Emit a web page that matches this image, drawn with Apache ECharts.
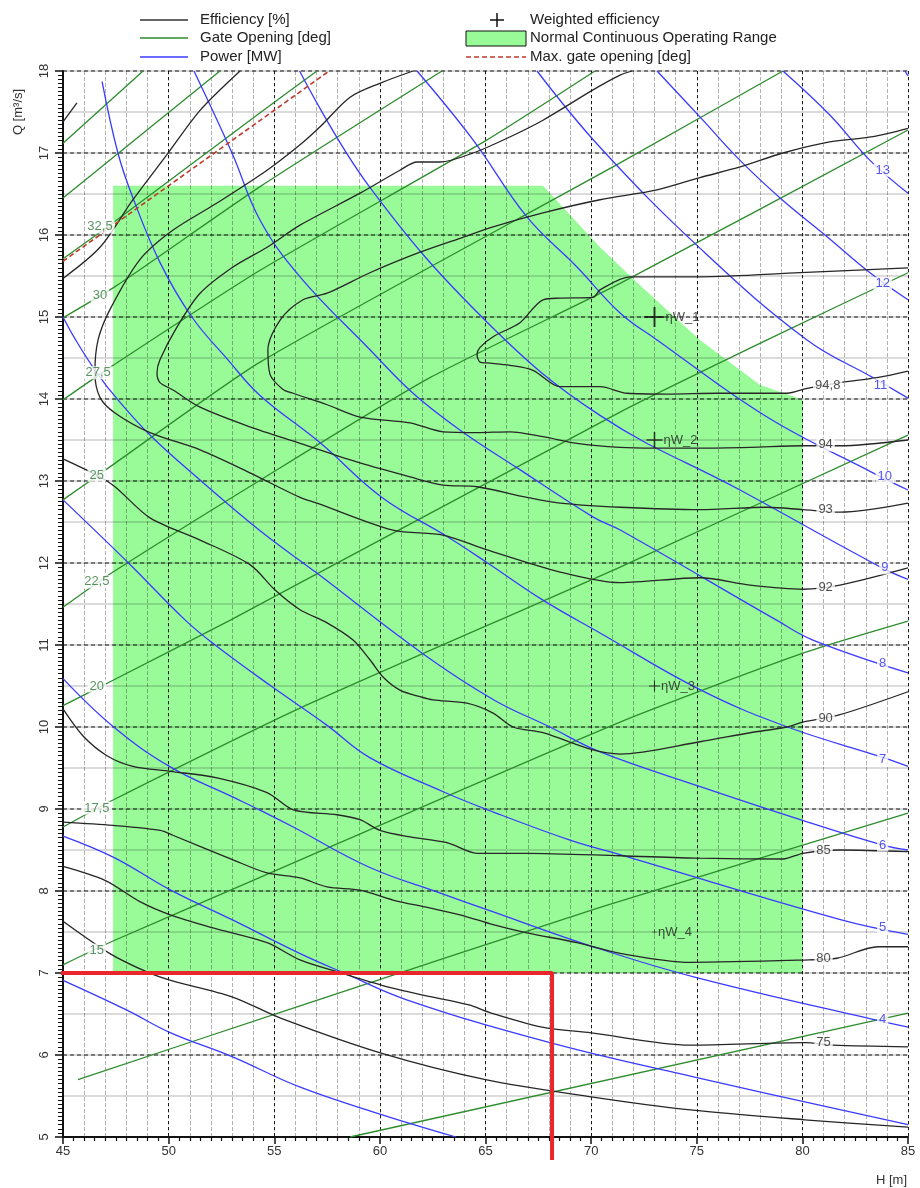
<!DOCTYPE html>
<html>
<head>
<meta charset="utf-8">
<script src="https://cdn.jsdelivr.net/npm/echarts@6/dist/echarts.min.js"></script>
<style>
html, body { margin: 0; padding: 0; background: #fff; }
#hill { width: 920px; height: 1188px; }
</style>
</head>
<body>
<div id="hill"></div>
<script>
// axis ranges
var hMin = 45, hMax = 85, qMin = 5, qMax = 18;

// normal continuous operating range (outline, [H, Q])
var rangeArea = [[47.37,16.6],[67.72,16.6],[70.42,15.85],[72.3,15.39],[75.15,14.72],[78.0,14.17],[80.03,13.99],[80.03,7.0],[47.37,7.0]];

// gate opening lines [deg]
var g10  = [[58.59,5.0],[85,6.51]];
var g125 = [[45.71,5.70],[56.22,6.6],[70.42,7.8],[85,8.95]];
var g15  = [[45,7.10],[47.37,7.39],[54.0,8.13],[71.37,10.06],[80.03,10.9],[85,11.29]];
var g175 = [[45,8.78],[47.37,9.11],[56.22,10.23],[71.37,11.95],[85,13.56]];
var g20  = [[45,10.26],[47.37,10.57],[52.9,11.3],[71.37,13.84],[78.33,14.72],[85,15.54]];
var g225 = [[45,11.46],[47.37,11.89],[54.33,13.01],[62.37,14.26],[71.37,15.41],[85,17.28]];
var g25  = [[45,12.77],[47.37,13.2],[54.33,14.45],[71.37,16.88],[79.08,18.0]];
var g275 = [[45,13.99],[47.37,14.41],[54.33,15.57],[65.07,17.16],[70.18,18.0]];
var g30  = [[45,14.99],[47.46,15.37],[54.33,16.59],[62.94,18.0]];
var g325 = [[45,15.71],[47.37,16.15],[54.33,17.49],[57.02,18.0]];
var g35  = [[45,16.45],[52.43,18.0]];
var g375 = [[45,17.12],[48.79,18.0]];
var maxGate = [[45,15.68],[57.6,18.0]];

// power lines [MW]
var pw2  = [[45,6.91],[48.0,6.55],[50.1,6.27],[53.0,5.98],[56.2,5.61],[60.0,5.28],[63.6,5.0]];
var pw3  = [[45,8.67],[47.4,8.41],[50.1,8.01],[53.0,7.65],[56.2,7.24],[58.3,7.0],[61.3,6.67],[68.05,6.15],[74.9,5.73],[85,5.15]];
var pw4  = [[45,10.59],[47.4,10.0],[50.1,9.51],[53.0,9.15],[54.3,8.99],[55.9,8.78],[59.5,8.29],[62.8,7.98],[65.1,7.77],[70.1,7.32],[74.9,6.95],[83.9,6.4],[85,6.34]];
var pw5  = [[45,12.77],[48.1,12.0],[50.8,11.3],[52.2,11.0],[54.9,10.49],[57.5,10.02],[59.5,9.63],[63.0,9.21],[65.1,8.99],[69.0,8.62],[71.4,8.44],[81.8,7.65],[85,7.47]];
var pw6  = [[45,15.0],[45.6,14.72],[46.6,14.32],[47.6,13.99],[49.2,13.54],[51.5,13.01],[54.3,12.4],[57.0,11.88],[62.0,10.9],[65.4,10.33],[68.05,10.0],[70.4,9.7],[75.2,9.27],[79.9,8.87],[83.8,8.56],[85,8.5]];
var pw7  = [[46.85,17.87],[47.6,17.0],[48.3,16.46],[49.6,15.66],[51.1,15.0],[52.8,14.48],[54.3,14.05],[57.2,13.46],[60.1,12.8],[63.2,12.32],[65.1,12.0],[67.7,11.55],[70.4,11.15],[75.2,10.45],[79.3,10.0],[83.8,9.63],[85,9.52]];
var pw8  = [[51.2,18.0],[53.0,17.0],[54.33,16.18],[56.22,15.49],[59.53,14.6],[61.57,14.07],[63.8,13.62],[66.5,13.16],[70.1,12.56],[71.4,12.4],[78.8,11.3],[80.5,11.06],[85,10.66]];
var pw9  = [[56.2,18.0],[59.5,16.59],[65.1,14.93],[70.42,13.8],[77.05,12.89],[83.7,11.95],[85,11.8]];
var pw10 = [[61.76,18.0],[64.41,17.16],[66.96,16.22],[69.33,15.61],[71.37,15.05],[73.12,14.72],[78.33,13.78],[83.34,13.1],[85,12.89]];
var pw11 = [[67.44,18.0],[70.42,17.07],[75.15,15.84],[80.22,14.72],[83.34,14.26],[85,14.01]];
var pw12 = [[73.12,18.0],[75.15,17.44],[77.05,16.91],[79.04,16.43],[81.17,15.98],[83.2,15.54],[85,15.21]];
var pw13 = [[79.08,18.0],[81.31,17.46],[83.2,16.91],[85,16.51]];
var pw14 = [[84.86,18.0],[85,17.94]];

// efficiency contours [%]
var eff70 = [[45,7.63],[47.2,7.24],[49.0,7.01],[50.1,6.91],[53.0,6.71],[55.3,6.45],[60.1,6.02],[65.0,5.70],[70.0,5.49],[74.7,5.33],[80.1,5.21],[85,5.12]];
var eff75 = [[45,8.3],[46.99,8.13],[48.64,7.87],[50.07,7.71],[52.1,7.55],[54.66,7.37],[56.22,7.16],[58.16,7.0],[60.1,6.85],[62.04,6.73],[64.22,6.61],[65.17,6.52],[67.67,6.34],[70.0,6.27],[74.68,6.12],[80.12,6.15],[81.45,6.12],[85,6.1]];
var eff80 = [[45,8.84],[47.37,8.8],[49.6,8.74],[50.2,8.68],[53.05,8.38],[54.66,8.22],[56.22,8.16],[57.5,8.05],[59.06,8.01],[60.62,7.89],[62.23,7.8],[63.79,7.71],[65.36,7.59],[66.96,7.49],[69.33,7.37],[71.37,7.24],[74.68,7.13],[80.31,7.16],[81.64,7.18],[83.58,7.32],[85,7.32]];
var eff85 = [[45,10.22],[45.95,9.89],[47.08,9.65],[48.31,9.52],[50.07,9.46],[52.29,9.38],[54.66,9.2],[55.9,8.99],[57.97,8.93],[59.06,8.87],[60.0,8.74],[61.43,8.66],[63.18,8.59],[64.6,8.46],[66.96,8.46],[71.37,8.43],[75.15,8.4],[79.08,8.39],[80.03,8.46],[81.78,8.5],[85,8.48]];
var eff85top = [[45,17.38],[45.66,17.61]];
var eff90top = [[45,15.47],[46.75,15.85],[48.31,16.43],[49.92,16.98],[51.49,17.52],[53.38,18.0]];
var eff90 = [[45,13.27],[46.6,13.07],[47.46,12.93],[49.12,12.55],[51.49,12.28],[53.85,11.98],[55.04,11.67],[56.22,11.43],[57.5,11.27],[58.73,11.06],[59.53,10.82],[60.15,10.61],[60.95,10.45],[61.9,10.37],[62.51,10.33],[64.12,10.29],[65.36,10.17],[66.3,10.0],[67.72,9.93],[70.09,9.72],[71.37,9.67],[75.15,9.82],[77.52,9.93],[79.27,10.0],[80.03,10.06],[81.78,10.15],[85,10.43]];
var eff92 = [[61.57,18.0],[60.0,17.85],[58.59,17.68],[57.17,17.32],[56.22,17.1],[54.66,16.79],[52.29,16.39],[50.21,16.06],[48.64,15.7],[47.22,15.09],[46.66,14.72],[46.51,14.32],[46.75,14.02],[47.46,13.83],[49.12,13.59],[51.49,13.38],[53.85,13.1],[56.22,12.8],[57.02,12.73],[60.62,12.4],[62.99,12.34],[65.07,12.16],[68.53,11.89],[71.37,11.76],[75.15,11.82],[77.52,11.73],[80.03,11.68],[81.78,11.73],[85,11.94]];
var eff93 = [[71.93,18.0],[71.37,17.95],[70.09,17.77],[67.72,17.4],[66.02,17.18],[64.41,17.0],[62.85,16.89],[61.76,16.89],[60.95,16.79],[59.06,16.51],[56.22,16.12],[54.66,15.85],[53.05,15.61],[51.49,15.29],[50.4,14.88],[49.59,14.48],[49.45,14.32],[49.59,14.2],[50.21,14.11],[51.49,13.9],[53.85,13.66],[56.22,13.46],[59.06,13.22],[61.43,13.05],[62.99,12.95],[64.6,12.93],[66.96,12.8],[68.53,12.73],[71.37,12.68],[75.15,12.65],[78.33,12.68],[80.03,12.65],[81.78,12.62],[85,12.73]];
var eff94 = [[85,17.3],[83.34,17.2],[81.17,17.13],[79.08,17.0],[77.05,16.83],[75.15,16.7],[73.12,16.55],[70.42,16.43],[67.72,16.27],[65.36,16.1],[63.79,15.96],[61.9,15.79],[59.53,15.54],[57.5,15.29],[56.36,15.21],[55.27,14.96],[54.7,14.6],[54.8,14.3],[55.4,14.12],[55.89,14.07],[57.5,13.93],[59.06,13.78],[61.43,13.71],[62.99,13.6],[64.6,13.59],[66.16,13.6],[67.72,13.54],[69.33,13.46],[71.37,13.41],[72.93,13.4],[75.15,13.4],[77.52,13.41],[80.03,13.43],[81.78,13.43],[85,13.5]];
var eff948 = [[85,15.6],[79.89,15.54],[75.15,15.49],[71.84,15.49],[70.42,15.33],[70.09,15.24],[68.53,15.23],[67.72,15.21],[66.63,14.93],[65.36,14.76],[64.74,14.63],[64.6,14.54],[64.74,14.45],[65.07,14.44],[66.16,14.41],[67.25,14.35],[68.53,14.15],[70.42,14.15],[71.7,14.07],[73.59,14.06],[75.96,14.07],[78.33,14.07],[79.27,14.07],[80.22,14.13],[81.78,14.2],[83.53,14.26],[85,14.34]];

// weighted efficiency points
var weightedPts = [[73, 15.0], [73, 13.5], [73, 10.5], [73, 7.5]];
var weightedNames = ['ηW_1', 'ηW_2', 'ηW_3', 'ηW_4'];

// contour labels [text, H, Q]
var gateLabels = [['32,5',46.75,16.1],['30',46.75,15.26],['27,5',46.66,14.32],['25',46.6,13.07],['22,5',46.6,11.77],['20',46.6,10.5],['17,5',46.6,9.01],['15',46.6,7.28]];
var powerLabels = [['13',83.8,16.79],['12',83.8,15.41],['11',83.7,14.17],['10',83.9,13.05],['9',83.9,11.94],['8',83.8,10.78],['7',83.8,9.6],['6',83.8,8.56],['5',83.8,7.55],['4',83.8,6.43]];
var effLabels = [['94,8',81.2,14.17],['94',81.1,13.44],['93',81.1,12.65],['92',81.1,11.7],['90',81.1,10.11],['85',81.0,8.5],['80',81.0,7.18],['75',81.0,6.15]];

// red limit marker
var redMarker = [[44.8, 7.0], [68.15, 7.0], [68.15, 4.72]];

var FONT = "'Liberation Sans', Arial, sans-serif";
var gateColor = '#2c8c2c', powerColor = '#3a3aff', effColor = '#262626';

function curve(name, data, color, width, smooth) {
  return {
    name: name, type: 'line', data: data, symbol: 'none', smooth: smooth,
    lineStyle: { color: color, width: width }, silent: true, z: 3
  };
}

function labelSeries(list, color, bg) {
  return {
    type: 'scatter', symbolSize: 0, silent: true, z: 6,
    data: list.map(function (l) { return { name: l[0], value: [l[1], l[2]] }; }),
    label: {
      show: true, position: 'inside', formatter: '{b}', color: color,
      fontFamily: FONT, fontSize: 13, backgroundColor: bg, padding: [0, 2]
    }
  };
}

var series = [];

// operating range polygon
series.push({
  type: 'custom', z: -1, silent: true,
  data: [0],
  renderItem: function (params, api) {
    var pts = rangeArea.map(function (p) { return api.coord(p); });
    return { type: 'polygon', shape: { points: pts }, style: { fill: '#98fb98' } };
  }
});

[g10, g125, g15, g175, g20, g225, g25, g275, g30, g325, g35, g375].forEach(function (d) {
  series.push(curve('Gate Opening [deg]', d, gateColor, 1.3, 0.2));
});
series.push({
  name: 'Max. gate opening [deg]', type: 'line', data: maxGate, symbol: 'none', silent: true, z: 4,
  lineStyle: { color: '#c0392b', width: 1.6, type: [5, 3] }
});
[pw2, pw3, pw4, pw5, pw6, pw7, pw8, pw9, pw10, pw11, pw12, pw13, pw14].forEach(function (d) {
  series.push(curve('Power [MW]', d, powerColor, 1.3, 0.4));
});
[eff70, eff75, eff80, eff85, eff85top, eff90top, eff90, eff92, eff93, eff94, eff948].forEach(function (d) {
  series.push(curve('Efficiency [%]', d, effColor, 1.3, 0.3));
});

series.push(labelSeries(gateLabels, '#2f7a3a', '#fff'));
series.push(labelSeries(powerLabels, '#2a2ae6', '#fff'));
series.push(labelSeries(effLabels, '#222', '#fff'));

var crossSizes = [20, 16, 11, 5];
series.push({
  type: 'scatter', silent: true, z: 7,
  symbol: 'path://M-1,-10 L1,-10 L1,10 L-1,10 Z M-10,-1 L10,-1 L10,1 L-10,1 Z',
  symbolSize: function (v, p) { return crossSizes[p.dataIndex]; },
  itemStyle: { color: '#111' },
  data: weightedPts.map(function (p, i) { return { name: weightedNames[i], value: p }; }),
  label: { show: true, position: 'right', distance: 1, formatter: '{b}', color: '#222', fontFamily: FONT, fontSize: 13 }
});

series.push({
  type: 'line', data: redMarker, symbol: 'none', silent: true, clip: false, z: 8,
  lineStyle: { color: '#e8262c', width: 4 }
});

// legend drawn as graphics
var txt = { font: '15px ' + FONT, fill: '#222', textVerticalAlign: 'middle' };
function legText(x, y, s) { return { type: 'text', x: x, y: y, style: Object.assign({ text: s }, txt) }; }
function legLine(x1, x2, y, stroke, dash) {
  return { type: 'line', shape: { x1: x1, y1: y, x2: x2, y2: y }, style: { stroke: stroke, lineWidth: 1.5, lineDash: dash || null } };
}

var graphic = [
  legLine(140, 188, 20, '#333'), legText(200, 20, 'Efficiency [%]'),
  legLine(140, 188, 38, '#2c8c2c'), legText(200, 38, 'Gate Opening [deg]'),
  legLine(140, 188, 57, '#3a3aff'), legText(200, 57, 'Power [MW]'),
  { type: 'line', shape: { x1: 490, y1: 20, x2: 504, y2: 20 }, style: { stroke: '#111', lineWidth: 1.5 } },
  { type: 'line', shape: { x1: 497, y1: 13, x2: 497, y2: 27 }, style: { stroke: '#111', lineWidth: 1.5 } },
  legText(530, 20, 'Weighted efficiency'),
  { type: 'rect', shape: { x: 466, y: 31, width: 60, height: 15 }, style: { fill: '#98fb98', stroke: '#111', lineWidth: 1 } },
  legText(530, 38, 'Normal Continuous Operating Range'),
  legLine(466, 526, 57, '#c0392b', [5, 3]), legText(530, 57, 'Max. gate opening [deg]'),
  { type: 'text', x: 18, y: 112, rotation: Math.PI / 2,
    style: { text: 'Q [m³/s]', font: '13px ' + FONT, fill: '#333', textAlign: 'center', textVerticalAlign: 'middle' } },
  { type: 'text', x: 907, y: 1180,
    style: { text: 'H [m]', font: '13px ' + FONT, fill: '#333', textAlign: 'right', textVerticalAlign: 'middle' } }
];

var chart = echarts.init(document.getElementById('hill'));
chart.setOption({
  animation: false,
  grid: { left: 63, right: 12, top: 71, bottom: 51 },
  xAxis: [{
    type: 'value', min: hMin, max: hMax, interval: 5,
    axisLine: { onZero: false, lineStyle: { color: '#111', width: 2 } },
    axisTick: { length: 7, lineStyle: { color: '#111', width: 1.5 } },
    minorTick: { show: true, splitNumber: 10, length: 4, lineStyle: { color: '#111', width: 1.2 } },
    axisLabel: { color: '#333', fontFamily: FONT, fontSize: 13, margin: 8 },
    splitLine: { show: true, lineStyle: { color: 'rgba(0,0,0,0.85)', width: 1, type: [3, 3] } }
  }, {
    type: 'value', min: hMin, max: hMax, interval: 1, z: -0.5,
    axisLine: { show: false }, axisTick: { show: false }, axisLabel: { show: false },
    splitLine: { show: true, lineStyle: { color: 'rgba(0,0,0,0.3)', width: 1, type: [4, 2] } }
  }],
  yAxis: [{
    type: 'value', min: qMin, max: qMax, interval: 1,
    axisLine: { onZero: false, lineStyle: { color: '#111', width: 2 } },
    axisTick: { length: 8, lineStyle: { color: '#111', width: 1.5 } },
    minorTick: { show: true, splitNumber: 20, length: 5, lineStyle: { color: '#111', width: 1 } },
    axisLabel: { color: '#333', fontFamily: FONT, fontSize: 13, rotate: 90, margin: 12 },
    splitLine: { show: true, lineStyle: { color: 'rgba(0,0,0,0.6)', width: 1.5, type: [4, 3] } }
  }, {
    type: 'value', min: qMin, max: qMax, interval: 0.5, z: -0.5,
    axisLine: { show: false }, axisTick: { show: false }, axisLabel: { show: false },
    splitLine: { show: true, lineStyle: { color: 'rgba(0,0,0,0.14)', width: 2 } }
  }],
  graphic: graphic,
  series: series
});
</script>
</body>
</html>
